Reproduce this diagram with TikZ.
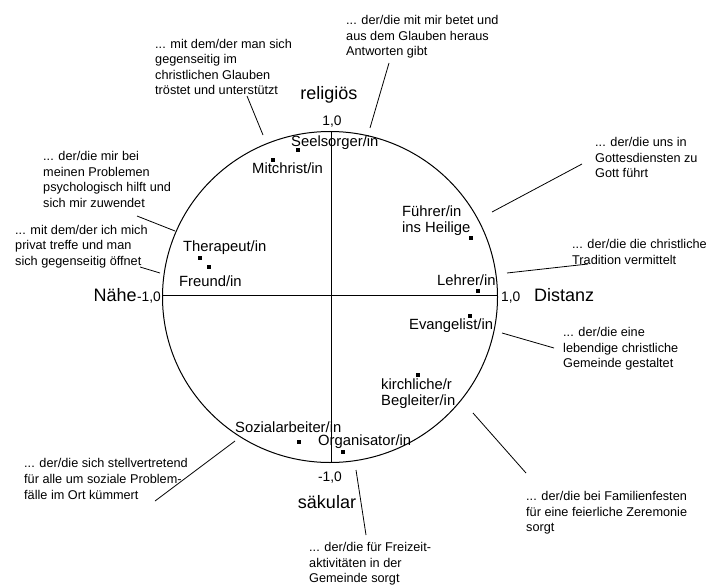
\documentclass[tikz,border=0pt]{standalone}
\usepackage{fontspec}
\setmainfont{Liberation Sans}
\begin{document}
\begin{tikzpicture}[x=1bp,y=-1bp,
  note/.style={font=\fontsize{12.7bp}{15.6bp}\selectfont, align=left, anchor=west, inner sep=0pt},
  role/.style={font=\fontsize{14.8bp}{16bp}\selectfont, align=left, anchor=west, inner sep=0pt},
  pole/.style={font=\fontsize{18bp}{20bp}\selectfont, inner sep=0pt},
  val/.style={font=\fontsize{13.8bp}{15bp}\selectfont, inner sep=0pt},
  marker/.style={fill=black, draw=none, inner sep=0pt, minimum size=4.2bp},
  leader/.style={line width=0.8bp},
  frame/.style={line width=1bp},
]
\useasboundingbox (0,0) rectangle (708,585);

% circle and axes
\draw[frame] (330,297) ellipse [x radius=167.5, y radius=165.5];
\coordinate (W) at (162.5,295);
\coordinate (E) at (497.5,295);
\coordinate (N) at (331,131.5);
\coordinate (S) at (331,462.5);
\draw[frame] (W) -- (E);
\draw[frame] (N) -- (S);
% end ticks
\draw[frame] ([yshift=-3]W) -- ([yshift=3]W);
\draw[frame] ([yshift=-3]E) -- ([yshift=3]E);
\draw[frame] ([xshift=-3]N) -- ([xshift=3]N);
\draw[frame] ([xshift=-3]S) -- ([xshift=3]S);

% pole labels
\node[pole] (rel) at (329,95) {religiös};
\node[val] (top) at (332,122) {1,0};
\node[val, anchor=base east] (left) at (161,301) {-1,0};
\node[pole, anchor=base east] (naehe) at (left.base west) {Nähe};
\node[val, anchor=base west] (right) at (501,301) {1,0};
\node[pole, anchor=base west] (dist) at (534,301) {Distanz};
\node[val] (bot) at (330,478) {-1,0};
\node[pole] (sak) at (327,502) {säkular};

% role positions
\node[marker] (m1) at (298,150) {};
\node[marker] (m2) at (273,160) {};
\node[marker] (m3) at (200,258) {};
\node[marker] (m4) at (209,267) {};
\node[marker] (m5) at (471,238) {};
\node[marker] (m6) at (478,291) {};
\node[marker] (m7) at (470,316) {};
\node[marker] (m8) at (418,375) {};
\node[marker] (m9) at (299,442) {};
\node[marker] (m10) at (343,452) {};

\node[role] (r1) at (291,143) {Seelsorger/in};
\node[role] (r2) at (252,168) {Mitchrist/in};
\node[role] (r3) at (183,248) {Therapeut/in};
\node[role] (r4) at (179,281) {Freund/in};
\node[role] (r5) at (402,221) {Führer/in\\ins Heilige};
\node[role] (r6) at (437,280) {Lehrer/in};
\node[role] (r7) at (409,326) {Evangelist/in};
\node[role] (r8) at (381,394) {kirchliche/r\\Begleiter/in};
\node[role] (r9) at (235,427) {Sozialarbeiter/in};
\node[role] (r10) at (318,442) {Organisator/in};

% descriptions
\node[note] (n1) at (346,37) {... der/die mit mir betet und\\aus dem Glauben heraus\\Antworten gibt};
\node[note] (n2) at (155,67) {... mit dem/der man sich\\gegenseitig im\\christlichen Glauben\\tröstet und unterstützt};
\node[note] (n3) at (43,179.5) {... der/die mir bei\\meinen Problemen\\psychologisch hilft und\\sich mir zuwendet};
\node[note] (n4) at (15,246.5) {... mit dem/der ich mich\\privat treffe und man\\sich gegenseitig öffnet};
\node[note] (n5) at (595,157.5) {... der/die uns in\\Gottesdiensten zu\\Gott führt};
\node[note] (n6) at (572,252) {... der/die die christliche\\Tradition vermittelt};
\node[note] (n7) at (563,349) {... der/die eine\\lebendige christliche\\Gemeinde gestaltet};
\node[note] (n8) at (526,513) {... der/die bei Familienfesten\\für eine feierliche Zeremonie\\sorgt};
\node[note] (n9) at (309,564) {... der/die für Freizeit-\\aktivitäten in der\\Gemeinde sorgt};
\node[note] (n10) at (24,479) {... der/die sich stellvertretend\\für alle um soziale Problem-\\fälle im Ort kümmert};

% leader lines
\coordinate (a1) at (389,63);  \coordinate (b1) at (370,128);
\coordinate (a2) at (247,96);  \coordinate (b2) at (263,135);
\coordinate (a3) at (137,216); \coordinate (b3) at (175,231);
\coordinate (a4) at (140,267); \coordinate (b4) at (160,273);
\coordinate (a5) at (582,164); \coordinate (b5) at (492,212);
\coordinate (a6) at (588,264); \coordinate (b6) at (507,273);
\coordinate (a7) at (554,348); \coordinate (b7) at (502,333);
\coordinate (a8) at (526,473); \coordinate (b8) at (473,413);
\coordinate (a9) at (366,535); \coordinate (b9) at (356,470);
\coordinate (a10) at (155,501); \coordinate (b10) at (235,441);
\foreach \i in {1,...,10} {\draw[leader] (a\i) -- (b\i);}
\end{tikzpicture}
\end{document}
